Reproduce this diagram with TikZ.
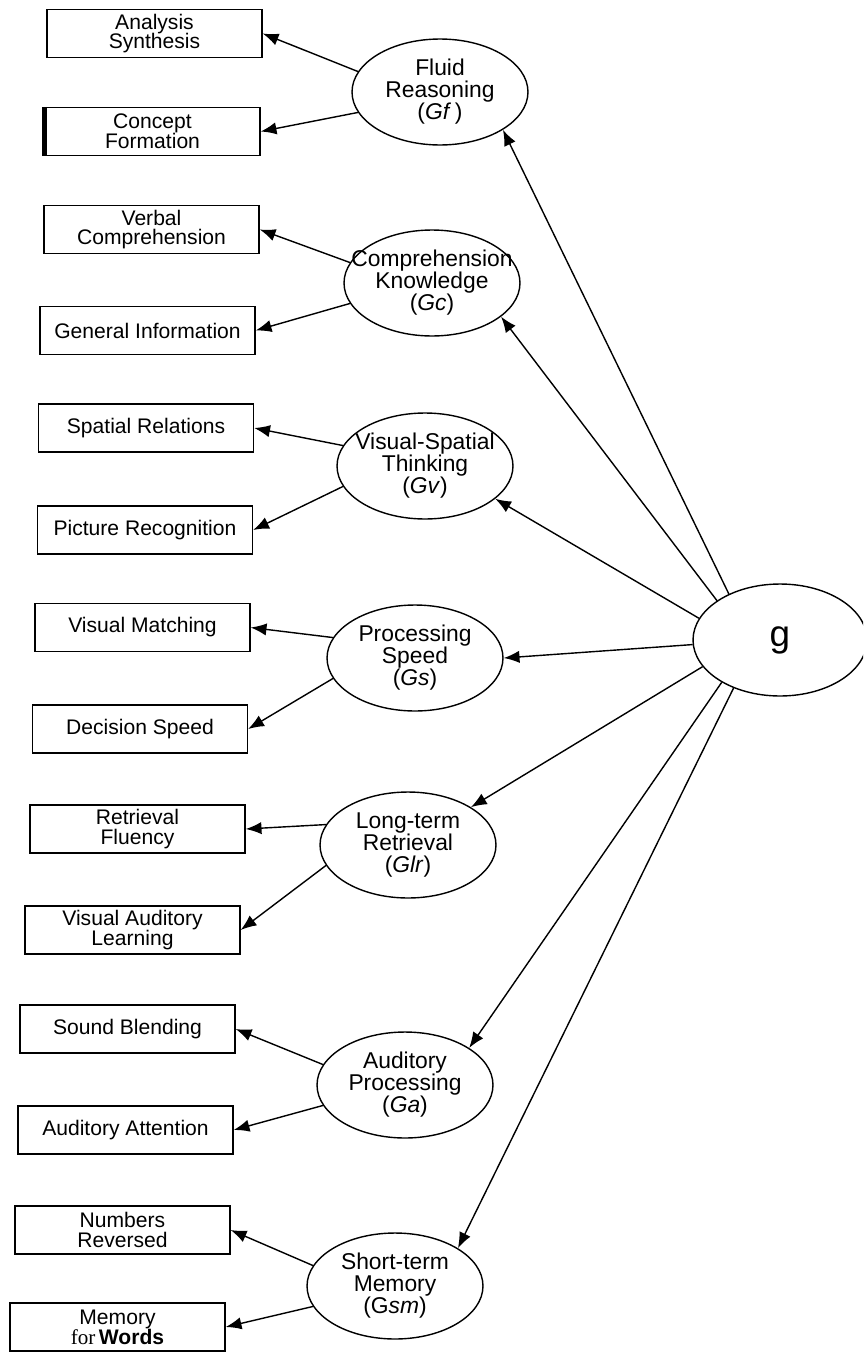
\documentclass[tikz,border=0pt]{standalone}
\usepackage{fontspec}
\setmainfont{Liberation Sans}
\newfontfamily\timesfont{Liberation Serif}
\usetikzlibrary{arrows.meta,shapes.geometric}
\begin{document}
\begin{tikzpicture}[x = 0.02cm, y = -0.02cm, line width = 0.8pt,
        test/.style = {draw, rectangle, minimum width = 4.3cm, minimum height = 0.96cm, inner sep = 1pt, align = center, font = \fontsize{12}{11.2}\selectfont},
        factor/.style = {draw, ellipse, minimum width = 3.52cm, minimum height = 2.12cm, inner sep = 0pt},
        factortext/.style = {align = center, font = \fontsize{13}{12.5}\selectfont},
        load/.style = {-{Latex[length = 9pt, width = 7pt]}}]
            \useasboundingbox (0,0) rectangle (863,1352);
            \clip (0,0) rectangle (863,1352);
            \node[draw, ellipse, minimum width = 3.48cm, minimum height = 2.24cm, inner sep = 0pt, font = \fontsize{21}{21}\selectfont] (g) at (780,640) {g};
            \begin{scope}
                \node[factor, label = {[factortext]center:{Fluid\\Reasoning\\(\textit{Gf}\,)}}] (gf) at (440,92) {};
                \node[factor, label = {[factortext]center:{Comprehension\\Knowledge\\(\textit{Gc})}}] (gc) at (432,283) {};
                \node[factor, label = {[factortext]center:{Visual-Spatial\\Thinking\\(\textit{Gv})}}] (gv) at (425,466) {};
                \node[factor, label = {[factortext]center:{Processing\\Speed\\(\textit{Gs})}}] (gs) at (415,658) {};
                \node[factor, label = {[factortext]center:{Long-term\\Retrieval\\(\textit{Glr})}}] (glr) at (408,845) {};
                \node[factor, label = {[factortext]center:{Auditory\\Processing\\(\textit{Ga})}}] (ga) at (405,1085) {};
                \node[factor, label = {[factortext]center:{Short-term\\Memory\\(G\textit{sm})}}] (gsm) at (395,1286) {};
            \end{scope}
            \begin{scope}
                \node[test] (as) at (154.5,33.5) {Analysis\\Synthesis};
                \node[test] (cf) at (152.5,131.5) {Concept\\Formation};
                \node[test] (vc) at (151.5,229.5) {Verbal\\Comprehension};
                \node[test] (gi) at (147.5,330.5) {General Information};
                \node[test] (sr) at (146,428) {Spatial Relations};
                \node[test] (pr) at (145,530) {Picture Recognition};
                \node[test] (vm) at (142.5,627.5) {Visual Matching};
                \node[test] (ds) at (140,729) {Decision Speed};
                \node[test] (rf) at (137.5,829) {Retrieval\\Fluency};
                \node[test] (val) at (132.5,930) {Visual Auditory\\Learning};
                \node[test] (sb) at (127.5,1029) {Sound Blending};
                \node[test] (aa) at (125.5,1130) {Auditory Attention};
                \node[test] (nr) at (122.5,1230) {Numbers\\Reversed};
                \node[test] (mw) at (117.5,1327) {Memory\\{\timesfont for}\,\textbf{Words}};
            \end{scope}
            \draw[line width = 2.5pt] (cf.north west) -- (cf.south west);
            \draw[load] (g.138) -- (gf.329);
            \draw[load] (g.148) -- (gc.334);
            \draw[load] (g.165) -- (gv.335);
            \draw[load] (g.183) -- (gs.0);
            \draw[load] (g.199) -- (glr.31);
            \draw[load] (g.216) -- (ga.30);
            \draw[load] (g.226) -- (gsm.31);
            \draw[load] (gf.166) -- (as.east);
            \draw[load] (gf.194) -- (cf.east);
            \draw[load] (gc.166) -- (vc.east);
            \draw[load] (gc.194) -- (gi.east);
            \draw[load] (gv.166) -- (sr.east);
            \draw[load] (gv.194) -- (pr.east);
            \draw[load] (gs.166) -- (vm.east);
            \draw[load] (gs.194) -- (ds.east);
            \draw[load] (glr.166) -- (rf.east);
            \draw[load] (glr.194) -- (val.east);
            \draw[load] (ga.166) -- (sb.east);
            \draw[load] (ga.194) -- (aa.east);
            \draw[load] (gsm.166) -- (nr.east);
            \draw[load] (gsm.194) -- (mw.east);
\end{tikzpicture}
\end{document}
